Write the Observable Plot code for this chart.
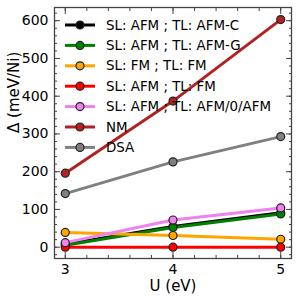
<!DOCTYPE html>
<html>
<head>
<meta charset="utf-8">
<script src="https://cdn.jsdelivr.net/npm/d3@7"></script>
<script src="https://cdn.jsdelivr.net/npm/@observablehq/plot@0.6"></script>
<style>
html,body{margin:0;padding:0;background:#fff;}
#wrap{position:relative;width:299px;height:299px;font-family:"DejaVu Sans",sans-serif;}
#legend{position:absolute;left:0;top:0;pointer-events:none;}
</style>
</head>
<body>
<div id="wrap"></div>
<script>
const U = [3, 4, 5];
const names = ["SL: AFM ; TL: AFM-C", "SL: AFM ; TL: AFM-G", "SL: FM ; TL: FM", "SL: AFM ; TL: FM", "SL: AFM ; TL: AFM/0/AFM", "NM", "DSA"];
const colors = ["#000000", "#008000", "#FFA500", "#FF0000", "#EE82EE", "#B22222", "#808080"];
const afmC = [8, 55, 91];
const afmG = [5, 52, 88];
const fmfm = [39, 31, 21];
const afmfm = [0, 0, 0];
const afm0 = [12, 72, 104];
const nm = [196, 387, 603];
const dsa = [142, 226, 293];
const values = [afmC, afmG, fmfm, afmfm, afm0, nm, dsa];
const xTicks = [3, 4, 5];
const yTicks = [0, 100, 200, 300, 400, 500, 600];

const data = [];
names.forEach((n, i) => U.forEach((u, j) => data.push({series: n, U: u, v: values[i][j], k: i})));

const xMinor = d3.range(2.8, 5.21, 0.2).map(d => +d.toFixed(2)).filter(d => d >= 2.9 && d <= 5.1);
const yMinor = d3.range(-20, 640, 20);
const ax = "#444";

const chart = Plot.plot({
  width: 299, height: 299,
  marginLeft: 54, marginRight: 8, marginTop: 7, marginBottom: 41,
  style: {fontFamily: "DejaVu Sans, sans-serif", fontSize: "13px", color: "#000", background: "#fff"},
  x: {domain: [2.9, 5.1], label: null},
  y: {domain: [-30, 635], label: null},
  color: {domain: names, range: colors},
  marks: [
    Plot.frame({stroke: ax, strokeWidth: 1.3}),
    Plot.axisX({ticks: xTicks, tickFormat: d => d, tickSize: 0, tickPadding: 6, fontSize: 14, stroke: ax}),
    Plot.axisX({ticks: xTicks, tickSize: -6, text: null, stroke: ax}),
    Plot.axisX({ticks: xMinor, tickSize: -3, text: null, stroke: ax}),
    Plot.axisX({anchor: "top", ticks: xTicks, tickSize: -6, text: null, stroke: ax, label: null}),
    Plot.axisX({anchor: "top", ticks: xMinor, tickSize: -3, text: null, stroke: ax, label: null}),
    Plot.axisY({ticks: yTicks, tickSize: 0, tickPadding: 6, fontSize: 14}),
    Plot.axisY({ticks: yTicks, tickSize: -6, text: null, stroke: ax}),
    Plot.axisY({ticks: yMinor, tickSize: -3, text: null, stroke: ax}),
    Plot.axisY({anchor: "right", ticks: yTicks, tickSize: -6, text: null, stroke: ax, label: null}),
    Plot.axisY({anchor: "right", ticks: yMinor, tickSize: -3, text: null, stroke: ax, label: null}),
    Plot.line(data, {x: "U", y: "v", z: "series", stroke: "series", strokeWidth: 3}),
    Plot.dot(data, {x: "U", y: "v", fill: "series", stroke: "#222", strokeWidth: 1.2, r: 4}),
    Plot.text(["U (eV)"], {frameAnchor: "bottom", dy: 32, fontSize: 15, text: d => d}),
    Plot.text(["Δ (meV/Ni)"], {frameAnchor: "left", dx: -40, rotate: -90, fontSize: 15, text: d => d})
  ]
});

const wrap = document.getElementById("wrap");
wrap.appendChild(chart);

// legend overlay
const lg = d3.select(wrap).append("svg").attr("id", "legend").attr("width", 299).attr("height", 299);
names.forEach((n, i) => {
  const y = 25 + i * 20.4;
  const g = lg.append("g");
  g.append("line").attr("x1", 65).attr("x2", 95).attr("y1", y).attr("y2", y).attr("stroke", colors[i]).attr("stroke-width", 3);
  g.append("circle").attr("cx", 80).attr("cy", y).attr("r", 4).attr("fill", colors[i]).attr("stroke", "#222").attr("stroke-width", 1.2);
  g.append("text").attr("x", 106).attr("y", y).attr("dy", "0.35em").attr("font-size", 13.4).attr("fill", "#000").attr("font-family", "DejaVu Sans, sans-serif").text(n);
});
</script>
</body>
</html>
